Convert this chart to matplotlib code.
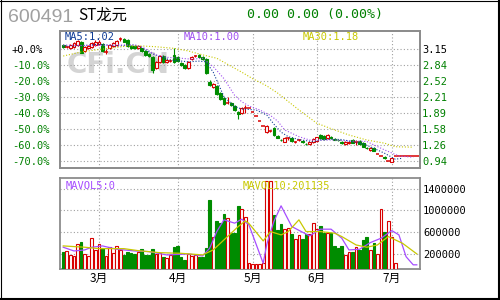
import matplotlib
matplotlib.use("Agg")
import numpy as np
import matplotlib.pyplot as plt
from matplotlib.lines import Line2D

# --- header / legend texts ---
code = "600491"
name = "ST龙元"
quote = "0.00 0.00 (0.00%)"
ma_texts = ["MA5:1.02", "MA10:1.00", "MA30:1.18"]
vol_texts = ["MAVOL5:0", "MAVOL10:201135"]

# --- axis ticks ---
pct_ticks = [0, -10, -20, -30, -40, -50, -60, -70]
pct_labels = ["+0.0%", "-10.0%", "-20.0%", "-30.0%", "-40.0%", "-50.0%", "-60.0%", "-70.0%"]
price_labels = ["3.15", "2.84", "2.52", "2.21", "1.89", "1.58", "1.26", "0.94"]
vol_ticks = [1400000, 1000000, 600000, 200000]
vol_labels = ["1400000", "1000000", "600000", "200000"]
month_days = [10, 32, 53, 71, 92]
month_labels = ["3月", "4月", "5月", "6月", "7月"]

# --- daily candles, in % against 3.15 ---
open_pct = [2.5, 1.25, 0.4, 1.1, 2.5, 4.6, -1.1, 0.4, 1.1, 2.5,
            3.1, 3.1, -1.7, 0.4, 1.9, 2.5, 6.25, 6.0, 5.6, 1.9,
            1.9, 0.4, 0.4, -1.1, -3.1, -4.8, -11.7, -7.9, -4.4, -7.9,
            -7.3, -3.75, -4.8, -8.6, -10.0, -12.1, -6.4, -4.4, -3.75, -4.8,
            -6.4, -20.4, -23.9, -23.1, -27.7, -30.8, -33.6, -33.6, -35.6, -39.2,
            -40.2, -36.9, -37.2, -39.2, -41.9, -45.0, -48.1, -51.7, -51.25, -49.4,
            -54.2, -56.7, -57.9, -55.8, -55.8, -57.9, -56.9, -57.5, -59.3, -59.6,
            -58.1, -57.3, -53.75, -54.4, -55.8, -54.8, -56.25, -56.7, -57.9, -59.4,
            -58.9, -56.9, -57.9, -57.5, -58.9, -61.9, -63.1, -62.1, -65.6, -66.7,
            -67.7, -69.8, -70.4, -66.9, -66.9, -66.9, -66.9, -66.9, -66.9, -66.9]
high_pct = [3.1, 1.9, 3.1, 4.2, 5.6, 5.0, 1.9, 2.5, 4.6, 5.6,
            5.6, 3.6, 0.0, 3.1, 4.2, 5.6, 7.5, 6.9, 6.25, 2.5,
            2.5, 2.5, 0.6, -0.6, -2.5, -4.2, -7.3, -3.75, -3.75, -6.25,
            -6.4, 0.6, -4.2, -8.1, -9.4, -7.3, -4.2, -3.75, -3.1, -4.4,
            -5.8, -19.4, -21.3, -22.5, -27.1, -30.3, -29.8, -33.1, -35.0, -38.8,
            -36.5, -35.0, -37.2, -39.2, -41.9, -45.0, -48.1, -47.5, -50.6, -48.8,
            -53.75, -56.25, -55.2, -55.2, -55.2, -57.3, -56.25, -56.9, -58.9, -57.9,
            -55.8, -54.8, -53.1, -53.75, -53.1, -54.4, -55.8, -56.25, -57.5, -57.5,
            -57.3, -56.25, -56.9, -56.9, -58.3, -61.5, -61.5, -61.5, -65.6, -66.7,
            -67.1, -69.8, -68.0, -66.9, -66.9, -66.9, -66.9, -66.9, -66.9, -66.9]
low_pct = [0.6, 0.6, 0.0, 0.6, 1.9, -2.8, -1.7, 0.0, 0.6, 1.9,
           2.5, -1.7, -3.1, 0.0, 1.4, 1.9, 5.0, 4.2, 1.4, 0.0,
           0.0, -0.3, -1.7, -4.2, -4.8, -14.8, -12.5, -8.6, -8.6, -8.6,
           -7.9, -8.6, -7.9, -10.6, -12.5, -12.5, -6.9, -5.2, -5.2, -6.9,
           -15.6, -23.1, -24.4, -28.8, -31.9, -35.0, -34.4, -35.6, -38.8, -43.75,
           -40.6, -40.0, -37.2, -39.2, -41.9, -45.0, -48.1, -52.5, -51.9, -54.4,
           -55.8, -57.5, -58.3, -56.9, -57.9, -58.6, -57.5, -58.6, -60.0, -60.0,
           -58.6, -57.9, -56.25, -56.9, -56.25, -56.25, -56.9, -57.5, -59.4, -59.8,
           -59.4, -59.0, -60.0, -59.8, -61.5, -62.5, -63.6, -64.0, -65.6, -66.7,
           -68.8, -69.8, -70.8, -66.9, -66.9, -66.9, -66.9, -66.9, -66.9, -66.9]
close_pct = [1.1, 1.25, 2.5, 3.6, 5.0, -2.3, 1.4, 1.9, 3.9, 4.6,
             4.6, -1.1, -1.7, 2.5, 3.6, 5.0, 6.25, 4.6, 1.9, 0.4,
             0.4, 1.9, -1.1, -3.75, -4.4, -13.1, -7.9, -4.4, -7.9, -6.9,
             -7.3, -7.9, -7.3, -10.0, -12.1, -7.9, -4.8, -4.4, -4.8, -6.25,
             -15.2, -22.5, -21.9, -28.1, -31.4, -34.4, -33.6, -35.0, -38.1, -40.6,
             -37.1, -36.9, -37.2, -39.2, -41.9, -45.0, -48.1, -48.1, -51.25, -53.75,
             -55.4, -57.0, -55.8, -55.8, -57.3, -57.9, -56.9, -58.1, -59.5, -58.3,
             -56.25, -55.2, -55.8, -56.25, -53.75, -55.8, -56.6, -57.0, -58.9, -57.9,
             -57.9, -58.6, -57.9, -59.4, -61.1, -62.2, -62.1, -63.6, -65.6, -66.7,
             -68.3, -69.8, -68.3, -66.9, -66.9, -66.9, -66.9, -66.9, -66.9, -66.9]
volume = [242000, 255000, 182000, 163000, 385000, 427000, 200000, 163000, 495000, 274000,
          385000, 305000, 163000, 323000, 212000, 348000, 274000, 182000, 242000, 212000,
          200000, 242000, 286000, 182000, 182000, 286000, 200000, 212000, 138000, 120000,
          182000, 323000, 348000, 151000, 89000, 200000, 163000, 182000, 138000, 138000,
          305000, 1197000, 508000, 815000, 778000, 938000, 870000, 594000, 594000, 1086000,
          1025000, 877000, 30000, 10000, 10000, 15000, 28000, 1535000, 1535000, 920000,
          643000, 754000, 668000, 686000, 569000, 471000, 551000, 477000, 569000, 569000,
          778000, 668000, 717000, 582000, 594000, 594000, 348000, 305000, 348000, 182000,
          237000, 243000, 323000, 274000, 458000, 508000, 274000, 397000, 200000, 1025000,
          606000, 809000, 520000, 28000, 0, 0, 0, 0, 0, 0]

# --- moving averages ---
ma5_days = [0, 5, 10, 15, 20, 22, 25, 28, 30, 35, 38, 40, 42, 45, 48, 50, 54, 57, 59, 61,
            63, 66, 70, 72, 75, 78, 80, 84, 86, 90, 93, 95]
ma5_vals = [1.9, 2.0, 3.0, 1.9, 2.5, 1.0, -3.0, -5.5, -6.9, -8.0, -7.6, -8.0, -14.5, -29.8,
            -36.0, -37.5, -38.1, -41.3, -47.0, -52.0, -54.8, -56.6, -58.0, -57.0, -56.4,
            -56.6, -57.5, -59.4, -61.1, -65.2, -68.9, -68.3]
ma10_days = [0, 5, 10, 15, 20, 22, 26, 29, 33, 36, 39, 42, 45, 48, 50, 52, 55, 58, 60, 62,
             66, 69, 75, 80, 85, 87, 90, 94, 98]
ma10_vals = [2.5, 2.2, 2.2, 2.5, 2.5, 1.4, -3.75, -5.2, -5.8, -6.4, -5.8, -11.0, -18.5, -29.0,
             -33.0, -35.6, -38.1, -41.5, -45.0, -50.6, -54.8, -56.9, -56.9, -57.5, -57.8,
             -60.0, -63.1, -66.9, -67.7]
ma30_days = [0, 5, 10, 13, 18, 22, 26, 31, 35, 38, 43, 47, 50, 53, 57, 60, 66, 71, 75, 80,
             85, 90, 93, 98]
ma30_vals = [-4.4, -1.9, -0.3, 0.4, 1.9, 1.9, 1.4, 0.4, -1.2, -3.1, -5.8, -10.8, -14.5, -18.5,
             -23.1, -27.5, -38.1, -46.4, -49.8, -53.75, -56.9, -58.9, -61.1, -61.4]
mavol5_days = [0, 3, 6, 8, 11, 15, 20, 24, 29, 35, 39, 41, 43, 45, 48, 50, 52, 56, 57, 59,
               61, 64, 69, 72, 75, 78, 80, 83, 86, 89, 92, 94, 96, 98, 99]
mavol5_vals = [324000, 255000, 274000, 324000, 348000, 287000, 255000, 243000, 182000, 200000,
               163000, 305000, 612000, 828000, 767000, 840000, 735000, 28000, 380000, 800000,
               1086000, 704000, 532000, 656000, 656000, 490000, 274000, 287000, 409000, 490000,
               630000, 551000, 150000, 0, 0]
mavol10_days = [0, 6, 10, 17, 21, 27, 33, 39, 42, 46, 49, 51, 52, 56, 58, 61, 63, 66, 68, 72,
                76, 78, 82, 85, 88, 91, 95, 99]
mavol10_vals = [348000, 324000, 298000, 298000, 261000, 224000, 212000, 182000, 274000, 520000,
                704000, 808000, 761000, 440000, 612000, 551000, 612000, 828000, 612000, 612000,
                582000, 520000, 366000, 324000, 366000, 520000, 397000, 201135]

RED = "#d80000"
GREEN = "#008c00"
TXT_GREEN = "#008000"
FRAME = "#8c8c8c"
GRID = "#a0a0a0"
MONO = "DejaVu Sans Mono"

fig = plt.figure(figsize=(5, 3), dpi=100)
fig.patch.set_facecolor("white")
ax = fig.add_axes([0.12, 0.44, 0.72, 0.4567])
axv = fig.add_axes([0.12, 0.1033, 0.72, 0.3033])

n = len(close_pct)
xlim = (-0.9, 99.9)

# --- candles ---
for i in range(n):
    o, h, l, c = open_pct[i], high_pct[i], low_pct[i], close_pct[i]
    up = c >= o
    col = RED if up else GREEN
    if h > l:
        ax.vlines(i, l, h, color=col, lw=0.8, zorder=2)
    if c == o:
        ax.hlines(c, i - 0.5, i + 0.5, color=col, lw=1.1, zorder=3)
    else:
        ax.bar(i, abs(c - o), bottom=min(o, c), width=0.8,
               facecolor="white" if up else GREEN, edgecolor=col, lw=0.8, zorder=3)

dot = (0, (1, 1.6))
ax.plot(ma5_days, ma5_vals, color="#0f3c96", lw=0.8, ls=dot, zorder=4)
ax.plot(ma10_days, ma10_vals, color="#a050f0", lw=0.8, ls=dot, zorder=4)
ax.plot(ma30_days, ma30_vals, color="#c8c800", lw=0.8, ls=dot, zorder=4)

ax.set_xlim(*xlim)
ax.set_ylim(-74.4, 11.25)
ax.set_xticks(month_days)
ax.set_xticklabels([])
ax.set_yticks(pct_ticks)
ax.set_yticklabels(pct_labels, family=MONO, fontsize=7.5)
for k, t in enumerate(ax.get_yticklabels()):
    t.set_color("black" if k == 0 else TXT_GREEN)
    t.set_ha("left")
ax.tick_params(axis="y", length=0, pad=34.6)
ax.tick_params(axis="x", length=0)
ax.grid(True, color=GRID, ls=(0, (1, 2)), lw=0.8, zorder=1)

ax.text(0.161, 0.752, "CFi.CN", transform=ax.transAxes, fontsize=20, fontweight="bold",
        color="#d4d4d4", ha="center", va="center", zorder=0.5)

for txt, xf, col in zip(ma_texts, [0.014, 0.344, 0.675], ["#0f3c96", "#a050f0", "#c8c800"]):
    ax.text(xf, 0.953, txt, transform=ax.transAxes, family=MONO, fontsize=7.5,
            color=col, va="center", ha="left", zorder=5)

ax_r = ax.twinx()
ax_r.set_ylim(ax.get_ylim())
ax_r.set_yticks(pct_ticks)
ax_r.set_yticklabels(price_labels, family=MONO, fontsize=7.5)
for k, t in enumerate(ax_r.get_yticklabels()):
    t.set_color("black" if k == 0 else TXT_GREEN)
ax_r.tick_params(axis="y", length=0, pad=1.4)

for a in (ax, ax_r, axv):
    for s in a.spines.values():
        s.set_color(FRAME)
        s.set_linewidth(1.3)

# --- volume ---
vfloor = -77000
for i in range(n):
    v = volume[i]
    if v <= 0:
        continue
    up = close_pct[i] >= open_pct[i]
    axv.bar(i, v - vfloor, bottom=vfloor, width=0.75,
            facecolor="white" if up else GREEN, edgecolor=RED if up else GREEN,
            lw=0.8, zorder=3)
axv.plot(mavol5_days, mavol5_vals, color="#a64dff", lw=0.9, zorder=4)
axv.plot(mavol10_days, mavol10_vals, color="#c8c800", lw=0.9, zorder=4)

axv.set_xlim(*xlim)
axv.set_ylim(vfloor, 1597500)
axv.yaxis.tick_right()
axv.set_yticks(vol_ticks)
axv.set_yticklabels(vol_labels, family=MONO, fontsize=7.5)
axv.tick_params(axis="y", length=0, pad=2.2)
axv.set_xticks(month_days)
axv.set_xticklabels(month_labels, family=["Noto Sans CJK SC", "DejaVu Sans"], fontsize=8.5)
axv.tick_params(axis="x", length=0, pad=1.8)
axv.grid(True, color=GRID, ls=(0, (1, 2)), lw=0.8, zorder=1)

for txt, xf, col in zip(vol_texts, [0.017, 0.508], ["#a64dff", "#c8c800"]):
    axv.text(xf, 0.915, txt, transform=axv.transAxes, family=MONO, fontsize=7.5,
             color=col, va="center", ha="left", zorder=5)

# --- header ---
fig.text(8 / 500, 1 - 17 / 300, code, family="Liberation Sans", fontsize=14,
         color="#a0a0a0", va="center", ha="left")
fig.text(78 / 500, 1 - 15 / 300, name, family=["Noto Sans CJK SC", "DejaVu Sans"],
         fontsize=11, color="black", va="center", ha="left")
fig.text(247 / 500, 1 - 14.5 / 300, quote, family=MONO, fontsize=9.5,
         color=TXT_GREEN, va="center", ha="left")

# --- outer frame ---
fig.add_artist(Line2D([0.001, 0.001], [0, 1], transform=fig.transFigure, color="black", lw=0.8))
fig.add_artist(Line2D([0, 1], [1 - 0.0017, 1 - 0.0017], transform=fig.transFigure, color="black", lw=0.8))
fig.add_artist(Line2D([0.998, 0.998], [0, 1], transform=fig.transFigure, color="black", lw=1.5))
fig.add_artist(Line2D([0, 1], [0.0033, 0.0033], transform=fig.transFigure, color="black", lw=1.5))

fig.savefig("out.png", dpi=100)
